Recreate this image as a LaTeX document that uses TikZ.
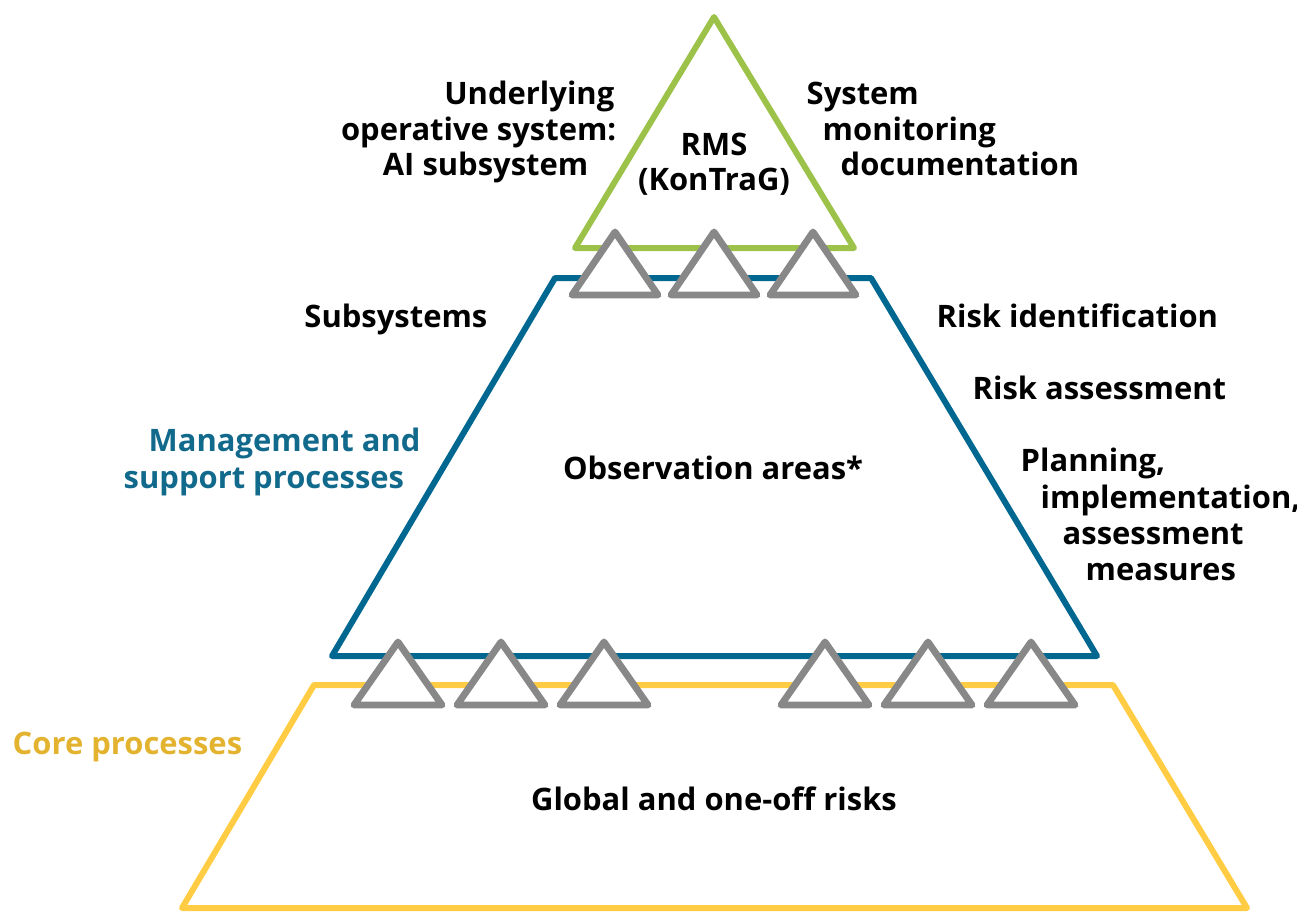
\documentclass[tikz,border=0pt]{standalone}
\usepackage{fontspec}
\setmainfont{Open Sans}
\definecolor{rmsgreen}{HTML}{9CC24A}
\definecolor{mgmtblue}{HTML}{006890}
\definecolor{mgmttext}{HTML}{11698C}
\definecolor{coreyellow}{HTML}{FFCC44}
\definecolor{coretext}{HTML}{E3B330}
\definecolor{linkgray}{HTML}{888888}
\begin{document}
\begin{tikzpicture}[x=0.01cm, y=-0.01cm]
        \useasboundingbox (0,0) rectangle (1297,914);
        \tikzstyle{layer}=[line width=1.7pt, line join=round];
        \tikzstyle{link}=[layer, line width=1.95pt, draw=linkgray, fill=white];
        \tikzstyle{every node}=[inner sep=0, font=\bfseries\fontsize{8.8}{10.1}\selectfont];

        % the three layers
        \draw[layer, coreyellow] (314,685) -- (1113,685) -- (1247,908) -- (182,908) -- cycle;
        \draw[layer, mgmtblue] (555,278) -- (871,278) -- (1097,656) -- (332,656) -- cycle;
        \draw[layer, rmsgreen] (714,17) -- (854,248) -- (575,248) -- cycle;

        % links between the layers
        \foreach \x in {615, 714, 813}
            \draw[link] (\x,232) -- ++(43,63) -- ++(-86,0) -- cycle;
        \foreach \x in {398, 501, 604, 825, 928, 1031}
            \draw[link] (\x,642) -- ++(44,63) -- ++(-88,0) -- cycle;

        % top
        \node (under1) at (615,104) [anchor=base east] {Underlying};
        \node (under2) at (617,140) [anchor=base east] {operative system:};
        \node (under3) at (589,175) [anchor=base east] {AI subsystem};
        \node (rms) at (714,155) [anchor=base] {RMS};
        \node (kontrag) at (714,190) [anchor=base] {(KonTraG)};
        \node (sys1) at (806,104) [anchor=base west] {System};
        \node (sys2) at (822,140) [anchor=base west] {monitoring};
        \node (sys3) at (840,175) [anchor=base west] {documentation};

        % middle
        \node (subsys) at (488,327) [anchor=base east] {Subsystems};
        \node (riskid) at (936,327) [anchor=base west] {Risk identification};
        \node (riskas) at (972,399) [anchor=base west] {Risk assessment};
        \node (plan1) at (1020,471) [anchor=base west] {Planning,};
        \node (plan2) at (1040,508) [anchor=base west] {implementation,};
        \node (plan3) at (1062,544) [anchor=base west] {assessment};
        \node (plan4) at (1085,580) [anchor=base west] {measures};
        \node (obs) at (713,479) [anchor=base] {Observation areas*};
        \node[mgmttext] (mgmt1) at (148,451) [anchor=base west] {Management and};
        \node[mgmttext] (mgmt2) at (123,488) [anchor=base west] {support processes};

        % bottom
        \node[coretext] (core) at (12,754) [anchor=base west] {Core processes};
        \node (global) at (714,810) [anchor=base] {Global and one-off risks};
\end{tikzpicture}
\end{document}
